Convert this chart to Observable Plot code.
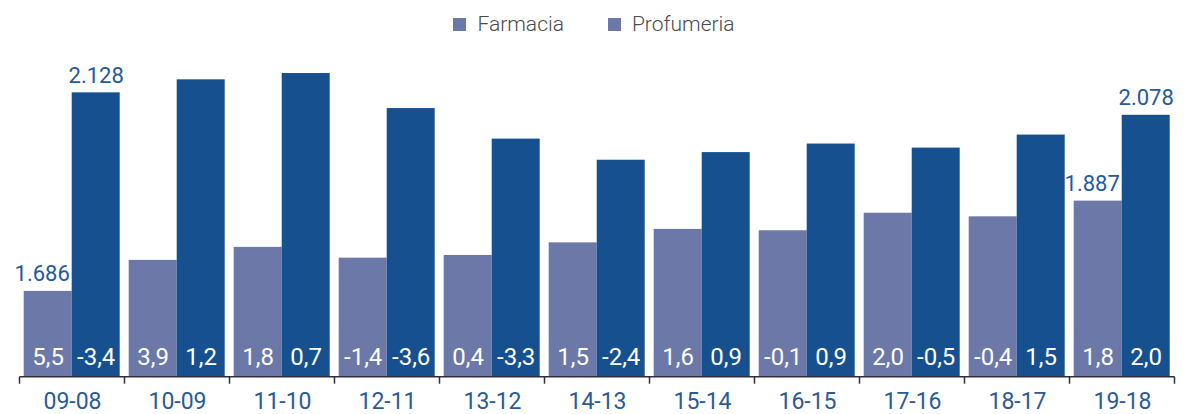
<!DOCTYPE html>
<html lang="it">
<head>
<meta charset="utf-8">
<script src="https://cdn.jsdelivr.net/npm/d3@7"></script>
<script src="https://cdn.jsdelivr.net/npm/@observablehq/plot@0.6"></script>
<style>
  html, body { margin: 0; padding: 0; background: #fff; }
  #chart { width: 1188px; font-family: Roboto, "Noto Sans", sans-serif; }
  .legend {
    height: 48px; display: flex; justify-content: center; align-items: center;
    gap: 44px; font-size: 21px; font-weight: 300; color: #4a4a4a;
  }
  .legend .item { display: flex; align-items: center; gap: 11px; }
  .legend .swatch { width: 13px; height: 13px; display: inline-block; }
  svg { display: block; }
</style>
</head>
<body>
<div id="chart"></div>
<script>
// Periods (year-on-year comparisons)
const periods = ["09-08", "10-09", "11-10", "12-11", "13-12", "14-13", "15-14", "16-15", "17-16", "18-17", "19-18"];
const seriesNames = ["Farmacia", "Profumeria"];

// Sales levels for each channel
const farmacia   = [1686, 1755, 1784, 1760, 1766, 1794, 1824, 1821, 1860, 1852, 1887];
const profumeria = [2128, 2157, 2171, 2093, 2025, 1978, 1995, 2014, 2005, 2034, 2078];

// Year-on-year change (%)
const farmaciaGrowth   = [5.5, 3.9, 1.8, -1.4, 0.4, 1.5, 1.6, -0.1, 2.0, -0.4, 1.8];
const profumeriaGrowth = [-3.4, 1.2, 0.7, -3.6, -3.3, -2.4, 0.9, 0.9, -0.5, 1.5, 2.0];

const barColors = ["#6c78a8", "#17508e"];
const legendColor = "#6c78a8";
const yMin = 1495, yMax = 2200;

const it = d3.formatLocale({decimal: ",", thousands: ".", grouping: [3], currency: ["€", ""], minus: "-"});
const fmtValue = it.format(",");
const fmtGrowth = it.format(".1f");

const rows = periods.flatMap((p, i) => [
  {period: p, series: "Farmacia", value: farmacia[i], growth: farmaciaGrowth[i], edge: i === 0 || i === periods.length - 1},
  {period: p, series: "Profumeria", value: profumeria[i], growth: profumeriaGrowth[i], edge: i === 0 || i === periods.length - 1}
]);

// Legend
const root = document.getElementById("chart");
const legend = document.createElement("div");
legend.className = "legend";
for (const name of seriesNames) {
  const item = document.createElement("span");
  item.className = "item";
  item.innerHTML = `<span class="swatch" style="background:${legendColor}"></span><span>${name}</span>`;
  legend.appendChild(item);
}
root.appendChild(legend);

const plot = Plot.plot({
  width: 1188,
  height: 366,
  marginTop: 12,
  marginBottom: 37.3,
  marginLeft: 17.3,
  marginRight: 11.7,
  style: {fontFamily: "Roboto, 'Noto Sans', sans-serif", background: "#fff", overflow: "visible"},
  fx: {domain: periods, paddingInner: 0.09, paddingOuter: 0.045, label: null},
  x: {domain: seriesNames, padding: 0, axis: null},
  y: {domain: [yMin, yMax], axis: null},
  color: {domain: seriesNames, range: barColors},
  marks: [
    Plot.barY(rows, {fx: "period", x: "series", y1: yMin, y2: "value", fill: "series"}),
    // first and last levels above the bars
    Plot.text(rows.filter(d => d.edge && d.series === "Farmacia"), {
      fx: "period", x: "series", y: "value", text: d => fmtValue(d.value),
      lineAnchor: "bottom", dy: -10, dx: -6, fill: "#24599a", fontSize: 22, fontWeight: 400
    }),
    Plot.text(rows.filter(d => d.edge && d.series === "Profumeria"), {
      fx: "period", x: "series", y: "value", text: d => fmtValue(d.value),
      lineAnchor: "bottom", dy: -10, fill: "#24599a", fontSize: 22, fontWeight: 400
    }),
    // growth rates inside the bars
    Plot.text(rows, {
      fx: "period", x: "series", y: yMin, text: d => fmtGrowth(d.growth),
      lineAnchor: "middle", dy: -20, fill: "#fff", fontSize: 24, fontWeight: 400
    }),
    Plot.axisFx({anchor: "bottom", tickSize: 0, tickPadding: 15, fontSize: 23, fontWeight: 400, color: "#2a5b98", label: null})
  ]
});
root.appendChild(plot);

// Baseline with bracket ticks at the period boundaries
const fx = plot.scale("fx");
const y = plot.scale("y");
const gap = fx.step - fx.bandwidth;
const bounds = periods.map(p => fx.apply(p) - gap / 2);
bounds.push(fx.apply(periods[periods.length - 1]) + fx.bandwidth + gap / 2);
const y0 = y.apply(yMin);
const g = d3.select(plot).append("g").attr("stroke", "#2e2e3c").attr("stroke-width", 1.5);
g.append("line").attr("x1", bounds[0]).attr("x2", bounds[bounds.length - 1]).attr("y1", y0).attr("y2", y0);
g.selectAll("line.tick").data(bounds).join("line").attr("class", "tick")
  .attr("x1", d => d).attr("x2", d => d).attr("y1", y0).attr("y2", y0 + 7);
</script>
</body>
</html>
